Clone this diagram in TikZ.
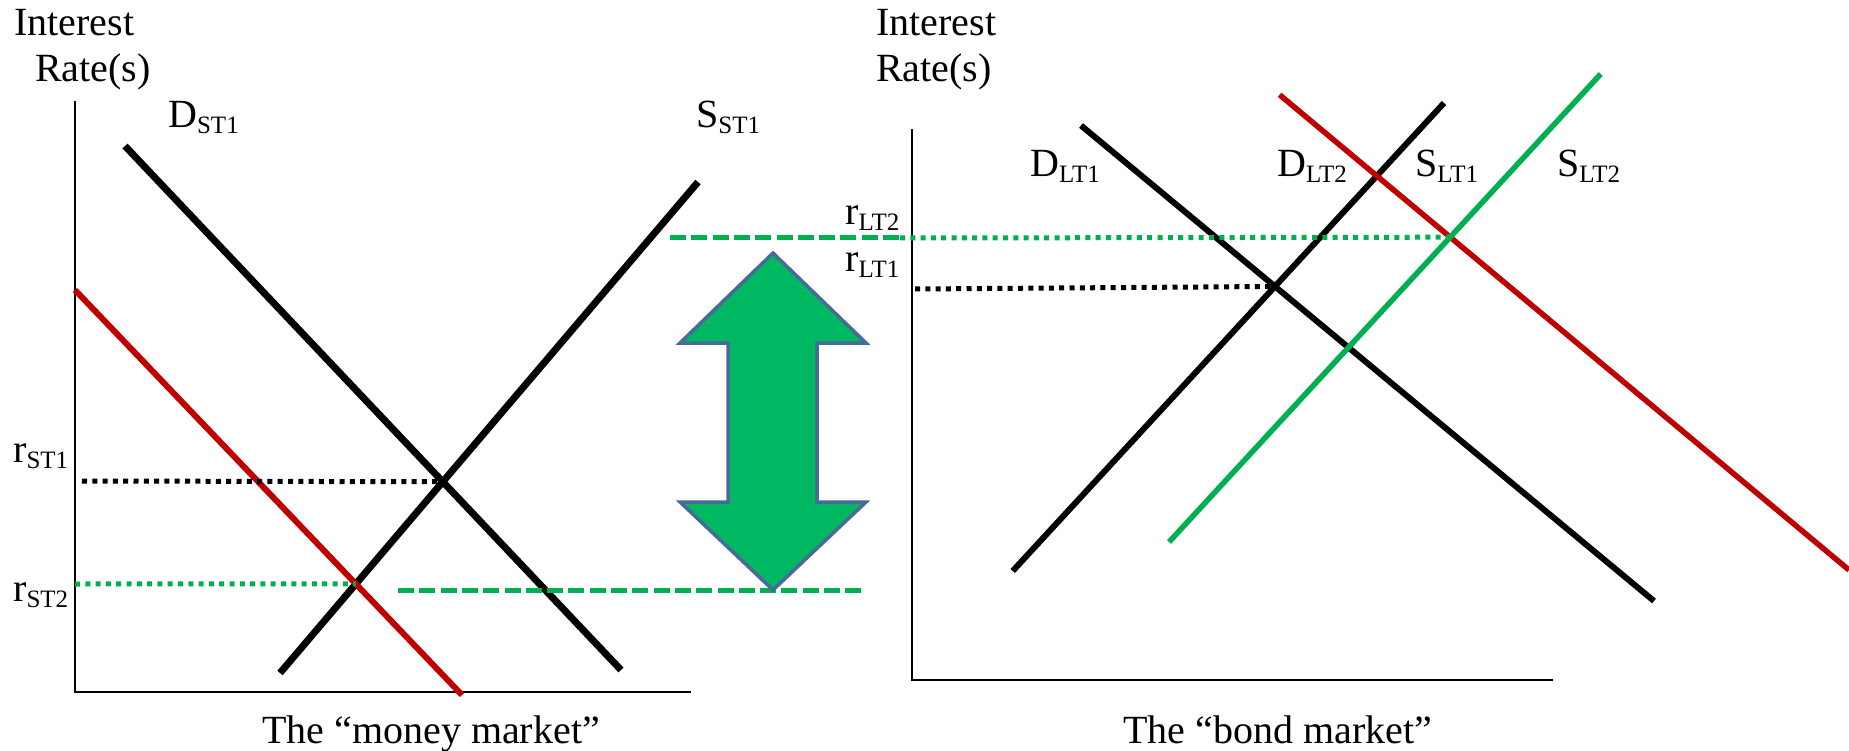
\documentclass[tikz,border=0pt]{standalone}
\usepackage{fontspec}
\setmainfont{Liberation Serif}
\definecolor{cred}{RGB}{192,0,0}
\definecolor{cgreen}{RGB}{0,176,80}
\definecolor{afill}{RGB}{0,184,98}
\definecolor{aedge}{RGB}{72,106,152}
\newcommand{\sublbl}[2]{#1\raisebox{-6pt}{\fontsize{25}{25}\selectfont #2}}
\tikzset{
  txt/.style={anchor=base west, inner sep=0pt, font=\fontsize{40}{44}\selectfont},
  axisline/.style={line width=2.5pt, black},
  curveblack/.style={line width=7pt, black},
  curvered/.style={line width=6pt, cred},
  curvegreen/.style={line width=5.5pt, cgreen},
  dotblack/.style={line width=5pt, black, dash pattern=on 5pt off 5.3pt},
  dotgreen/.style={line width=5pt, cgreen, dash pattern=on 5pt off 5.3pt},
  dashgreen/.style={line width=5pt, cgreen, dash pattern=on 16pt off 5.3pt},
  bigarrow/.style={fill=afill, draw=aedge, line width=3.5pt, line join=miter}
}
\begin{document}
\begin{tikzpicture}[x=1pt,y=-1pt]
\useasboundingbox (0,0) rectangle (1849,751);
% ---------- left panel ----------
\coordinate (LO) at (75,692);
\coordinate (LT) at (75,101);
\coordinate (LR) at (691,692);
\draw[axisline] (LT) -- (LO) -- (LR);
\coordinate (d1a) at (125,146);  \coordinate (d1b) at (621,670);
\coordinate (s1a) at (280,673);  \coordinate (s1b) at (698,182);
\coordinate (r1a) at (75,290);   \coordinate (r1b) at (462,695);
\draw[curveblack] (d1a) -- (d1b);
\draw[curveblack] (s1a) -- (s1b);
\draw[curvered] (r1a) -- (r1b);
\coordinate (eqL1) at (intersection of d1a--d1b and s1a--s1b);
\coordinate (eqL2) at (intersection of r1a--r1b and s1a--s1b);
\coordinate (rst1) at (82,481);
\coordinate (rst2) at (75,584);
\draw[dotblack] (rst1) -- (eqL1);
\draw[dotgreen] (rst2) -- (eqL2);
\node[txt] (int1) at (14,36) {Interest};
\node[txt] (rate1) at (35,82) {Rate(s)};
\node[txt] (dst1) at (168,128) {\sublbl{D}{ST1}};
\node[txt] (sst1) at (696,128) {\sublbl{S}{ST1}};
\node[txt] (rST1) at (13,462) {\sublbl{r}{ST1}};
\node[txt] (rST2) at (13,601) {\sublbl{r}{ST2}};
\node[txt] (mm) at (262,743) {The “money market”};
% ---------- middle ----------
\coordinate (dhA) at (670,238);
\coordinate (dhB) at (900,238);
\coordinate (dlA) at (398,590);
\coordinate (dlB) at (862,590);
\draw[dashgreen] (dhA) -- (dhB);
\draw[dashgreen] (dlA) -- (dlB);
\coordinate (a1) at (773,253);
\coordinate (a2) at (866,343);
\coordinate (a3) at (817,343);
\coordinate (a4) at (817,502);
\coordinate (a5) at (866,502);
\coordinate (a6) at (773,590);
\coordinate (a7) at (680,502);
\coordinate (a8) at (728,502);
\coordinate (a9) at (728,343);
\coordinate (a10) at (680,343);
\draw[bigarrow] (a1) -- (a2) -- (a3) -- (a4) -- (a5) -- (a6) -- (a7) -- (a8) -- (a9) -- (a10) -- cycle;
% ---------- right panel ----------
\coordinate (RO) at (912,680);
\coordinate (RT) at (912,129);
\coordinate (RR) at (1553,680);
\draw[axisline] (RT) -- (RO) -- (RR);
\coordinate (d2a) at (1081,125.5); \coordinate (d2b) at (1654,601);
\coordinate (s2a) at (1012.7,571); \coordinate (s2b) at (1444,103);
\coordinate (r2a) at (1279.6,94.8); \coordinate (r2b) at (1849,570);
\coordinate (g2a) at (1169,542);   \coordinate (g2b) at (1600.7,74);
\draw[curveblack,line width=6pt] (d2a) -- (d2b);
\draw[curveblack,line width=6pt] (s2a) -- (s2b);
\draw[curvered,line width=5.5pt] (r2a) -- (r2b);
\draw[curvegreen] (g2a) -- (g2b);
\coordinate (eqR1) at (intersection of d2a--d2b and s2a--s2b);
\coordinate (eqR2) at (intersection of r2a--r2b and g2a--g2b);
\coordinate (rlt1) at (915,289);
\draw[dotblack] (rlt1) -- (eqR1);
\draw[dotgreen] (dhB) -- (eqR2);
\node[txt] (int2) at (876,36) {Interest};
\node[txt] (rate2) at (876,82) {Rate(s)};
\node[txt] (dlt1) at (1030,177) {\sublbl{D}{LT1}};
\node[txt] (dlt2) at (1277,177) {\sublbl{D}{LT2}};
\node[txt] (slt1) at (1415,177) {\sublbl{S}{LT1}};
\node[txt] (slt2) at (1557,177) {\sublbl{S}{LT2}};
\node[txt] (rLT2) at (845,225) {\sublbl{r}{LT2}};
\node[txt] (rLT1) at (845,272) {\sublbl{r}{LT1}};
\node[txt] (bm) at (1123,743) {The “bond market”};
\end{tikzpicture}
\end{document}
